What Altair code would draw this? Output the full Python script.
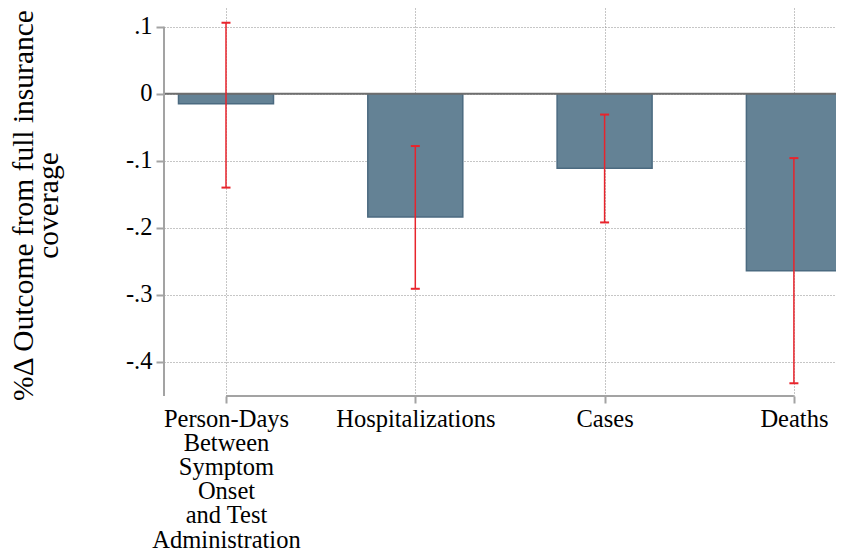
import altair as alt
import pandas as pd

# ---- data ----
categories = [
    "Person-Days\nBetween\nSymptom\nOnset\nand Test\nAdministration",
    "Hospitalizations",
    "Cases",
    "Deaths",
]
estimates = [-0.015, -0.184, -0.111, -0.264]
ci_low = [-0.140, -0.291, -0.192, -0.432]
ci_high = [0.106, -0.078, -0.031, -0.096]
y_ticks = [-0.4, -0.3, -0.2, -0.1, 0.0, 0.1]
y_title = ["%Δ Outcome from full insurance", "coverage"]

positions = list(range(1, len(categories) + 1))
df = pd.DataFrame({"pos": positions, "cat": categories, "est": estimates,
                   "lo": ci_low, "hi": ci_high})

W, H = 672, 388
FONT = "Liberation Serif"
GRID = "#8c8c8c"
AXIS = "#a3a3a3"
BAR_FILL = "#648295"
BAR_STROKE = "#4b6a80"
RED = "#e8242c"

xscale = alt.Scale(domain=[0.6725, 4.2224], nice=False, zero=False, padding=0)
yscale = alt.Scale(domain=[-0.451, 0.128], nice=False, zero=False, padding=0)

lab_arrays = "[" + ",".join(
    "[" + ",".join("'" + part + "'" for part in c.split("\n")) + "]" for c in categories
) + "]"
x_label_expr = f"{lab_arrays}[round(datum.value) - 1]"
y_label_expr = ("datum.value == 0 ? '0' : (datum.value < 0 ? '-' : '') + '.' + "
                "format(abs(datum.value) * 10, '.0f')")

x_axis = alt.Axis(values=positions, labelExpr=x_label_expr, title=None, grid=True,
                  gridDash=[1, 2], gridColor=GRID, gridWidth=1, domain=False,
                  ticks=True, tickSize=7, tickWidth=2, tickColor=AXIS,
                  labelFont=FONT, labelFontSize=24.5, labelLineHeight=24.2,
                  labelPadding=4, labelFlush=False, labelOverlap=False,
                  labelColor="black", labelBound=False)
y_axis = alt.Axis(values=y_ticks, labelExpr=y_label_expr, title=y_title, grid=True,
                  gridDash=[1, 2], gridColor=GRID, gridWidth=1, domain=False,
                  ticks=True, tickSize=8, tickWidth=2, tickColor=AXIS,
                  labelFont=FONT, labelFontSize=24.5, labelPadding=4,
                  labelColor="black", labelOverlap=False,
                  titleFont=FONT, titleFontSize=29.5, titleFontWeight="normal",
                  titleColor="black", titleLineHeight=25, titleX=-132, titleY=H / 2 + 3,
                  titleBaseline="alphabetic", titleAngle=-90)

base = alt.Chart(df)

bars = base.mark_bar(size=95, color=BAR_FILL, stroke=BAR_STROKE, strokeWidth=1.5).encode(
    x=alt.X("pos:Q", scale=xscale, axis=x_axis),
    y=alt.Y("est:Q", scale=yscale, axis=y_axis),
)

zero_line = alt.Chart(pd.DataFrame({"z": [0.0]})).mark_rule(
    color="#6e6e6e", strokeWidth=2).encode(
    y=alt.Y("z:Q", scale=yscale),
    x=alt.value(0), x2=alt.value(W),
)

y_line = alt.Chart(pd.DataFrame({"t": [y_ticks[-1]]})).mark_rule(
    color=AXIS, strokeWidth=2).encode(
    y=alt.Y("t:Q", scale=yscale),
    y2=alt.value(H), x=alt.value(0),
)

x_line = alt.Chart(pd.DataFrame({"a": [positions[0]], "b": [positions[-1]]})).mark_rule(
    color=AXIS, strokeWidth=2).encode(
    x=alt.X("a:Q", scale=xscale), x2="b:Q", y=alt.value(H),
)

err = base.mark_rule(color=RED, strokeWidth=1.5).encode(
    x=alt.X("pos:Q", scale=xscale),
    y=alt.Y("lo:Q", scale=yscale), y2="hi:Q",
)
cap_lo = base.mark_tick(orient="horizontal", size=9, thickness=2, color=RED, opacity=1).encode(
    x=alt.X("pos:Q", scale=xscale),
    y=alt.Y("lo:Q", scale=yscale),
)
cap_hi = base.mark_tick(orient="horizontal", size=9, thickness=2, color=RED, opacity=1).encode(
    x=alt.X("pos:Q", scale=xscale),
    y=alt.Y("hi:Q", scale=yscale),
)

chart = alt.layer(bars, zero_line, y_line, x_line, err, cap_lo, cap_hi).properties(
    width=W, height=H,
    padding={"left": 156, "top": 0, "right": 0, "bottom": 160},
    autosize=alt.AutoSizeParams(type="none"),
    background="white",
).configure_view(stroke=None)

chart.save("out.html", embed_options={"renderer": "svg", "actions": False})
